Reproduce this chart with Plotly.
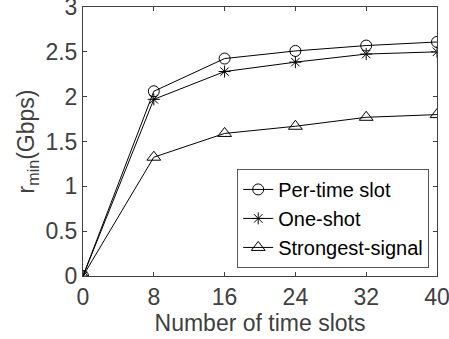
import plotly.graph_objects as go

x_slots = [0, 8, 16, 24, 32, 40]
per_time_slot = [0, 2.06, 2.425, 2.51, 2.57, 2.61]
one_shot = [0, 1.97, 2.28, 2.385, 2.475, 2.50]
strongest_signal = [0, 1.325, 1.59, 1.67, 1.77, 1.80]
x_ticks = [0, 8, 16, 24, 32, 40]
y_ticks = [0, 0.5, 1, 1.5, 2, 2.5, 3]
y_tick_labels = ["0", "0.5", "1", "1.5", "2", "2.5", "3"]

font = "Liberation Sans, Arial, sans-serif"
gray = "#404040"

fig = go.Figure()
fig.add_trace(go.Scatter(x=x_slots, y=per_time_slot, mode="lines+markers", name="Per-time slot",
                         line=dict(color="black", width=1),
                         marker=dict(symbol="circle-open", size=11, color="black", line=dict(width=1))))
fig.add_trace(go.Scatter(x=x_slots, y=one_shot, mode="lines+markers", name="One-shot",
                         line=dict(color="black", width=1),
                         marker=dict(symbol="asterisk-open", size=10, color="black", line=dict(width=1))))
fig.add_trace(go.Scatter(x=x_slots, y=strongest_signal, mode="lines+markers", name="Strongest-signal",
                         line=dict(color="black", width=1),
                         marker=dict(symbol="triangle-up-open", size=12, color="black", line=dict(width=1))))

fig.update_layout(
    width=449, height=339,
    margin=dict(l=83, r=12, t=7, b=63, autoexpand=False),
    paper_bgcolor="white", plot_bgcolor="white",
    font=dict(family=font, size=23, color=gray),
    showlegend=True,
    legend=dict(x=0.978, y=0.03, xanchor="right", yanchor="bottom",
                bgcolor="white", bordercolor="#555555", borderwidth=1,
                font=dict(family=font, size=20, color="black"),
                tracegroupgap=0, itemwidth=30),
    xaxis=dict(range=[0, 40], tickvals=x_ticks, ticks="inside", ticklen=4,
               showgrid=False, zeroline=False, showline=True, linecolor=gray, linewidth=1,
               mirror="ticks", tickcolor=gray, ticklabeloverflow="allow", automargin=False,
               title=dict(text="Number of time slots", standoff=0, font=dict(size=23, color=gray)),
               tickfont=dict(size=23, color=gray)),
    yaxis=dict(range=[0, 3], tickvals=y_ticks, ticktext=y_tick_labels, ticks="inside", ticklen=4,
               showgrid=False, zeroline=False, showline=True, linecolor=gray, linewidth=1,
               mirror="ticks", tickcolor=gray, ticklabeloverflow="allow", automargin=False,
               title=dict(text="r<sub>min</sub>(Gbps)", standoff=4, font=dict(size=23, color=gray)),
               tickfont=dict(size=23, color=gray)),
)

fig.write_html("out.html", config={"displayModeBar": False},
               post_script="document.body.style.margin='0';document.body.style.overflow='hidden';")
